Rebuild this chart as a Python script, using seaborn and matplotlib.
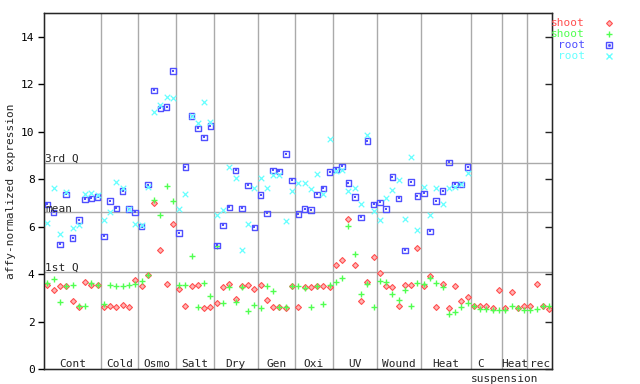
import numpy as np
import pandas as pd
import matplotlib
matplotlib.use("Agg")
import matplotlib.pyplot as plt
import seaborn as sns
from matplotlib.lines import Line2D

# ---- data ------------------------------------------------------------
groups      = ["Cont", "Cold", "Osmo", "Salt", "Dry", "Gen", "Oxi",
               "UV", "Wound", "Heat", "C", "Heat", "rec"]
group_sizes = [9, 6, 6, 6, 7, 6, 6, 7, 7, 8, 5, 4, 4]

shoot_1 = [3.53, 3.32, 3.49, 3.49, 2.85, 2.60, 3.65, 3.53, 3.53,
           2.60, 2.64, 2.60, 2.68, 2.60, 3.74,
           3.51, 3.95, 7.00, 5.00, 3.57, 6.11,
           3.36, 2.64, 3.49, 3.53, 2.56, 2.60,
           2.77, 3.44, 3.57, 2.94, 3.49, 3.53, 3.36,
           3.53, 2.89, 2.60, 2.60, 2.56, 3.50,
           2.60, 3.46, 3.46, 3.50, 3.50, 3.46,
           4.37, 4.58, 6.31, 4.37, 2.85, 3.65, 4.71,
           4.03, 3.49, 3.44, 2.64, 3.53, 3.53, 5.09,
           3.49, 3.93, 2.60, 3.57, 2.56, 3.49, 2.85, 3.02,
           2.67, 2.67, 2.67, 2.58, 3.33,
           2.56, 3.23, 2.56, 2.64,
           2.67, 3.57, 2.64, 2.52]
shoot_2 = [3.61, 3.78, 2.81, 3.49, 3.53, 2.64, 2.64, 3.61, 3.53,
           2.73, 3.53, 3.49, 3.49, 3.53, 3.57,
           3.72, 3.97, 7.13, 6.49, 7.71, 7.07,
           3.53, 3.53, 4.75, 2.60, 3.61, 3.06,
           5.17, 2.77, 3.44, 2.81, 3.44, 2.43, 2.68,
           2.56, 3.49, 3.27, 2.60, 2.60, 3.50,
           3.50, 3.40, 2.60, 3.50, 2.73, 3.54,
           3.65, 3.82, 6.01, 4.83, 3.15, 3.57, 2.60,
           3.70, 3.65, 3.15, 2.89, 3.32, 2.64, 3.61,
           3.57, 3.82, 3.61, 3.44, 2.31, 2.39, 2.60, 2.77,
           2.64, 2.52, 2.52, 2.47, 2.47,
           2.47, 2.64, 2.56, 2.47,
           2.47, 2.52, 2.64, 2.64]
root_1 = [6.94, 6.60, 5.25, 7.36, 5.51, 6.27, 7.15, 7.19, 7.24,
          5.59, 7.07, 6.77, 7.49, 6.73, 6.60,
          6.00, 7.77, 11.74, 10.98, 11.03, 12.55,
          5.72, 8.50, 10.65, 10.14, 9.76, 10.23,
          5.21, 6.05, 6.81, 8.37, 6.77, 7.74, 5.97,
          7.32, 6.56, 8.37, 8.33, 9.05, 7.95,
          6.52, 6.73, 6.69, 7.36, 7.61, 8.29,
          8.41, 8.54, 7.83, 7.24, 6.39, 9.60, 6.94,
          7.02, 6.73, 8.08, 7.19, 5.00, 7.87, 7.28,
          7.40, 5.80, 7.07, 7.49, 8.71, 7.78, 7.78, 8.50]
root_2 = [6.14, 7.61, 5.68, 7.45, 5.93, 6.06, 7.36, 7.40, 7.32,
          6.27, 6.60, 7.87, 7.61, 6.73, 6.10,
          6.05, 7.68, 10.82, 11.11, 11.45, 11.41,
          6.74, 7.37, 10.65, 10.35, 11.24, 10.40,
          6.48, 6.69, 8.50, 8.04, 5.00, 6.10, 7.61,
          8.04, 7.61, 8.16, 8.16, 6.22, 7.49,
          7.83, 7.83, 7.57, 8.20, 7.36, 9.68,
          8.33, 8.37, 7.49, 7.61, 6.94, 9.85, 6.65,
          6.27, 7.19, 7.53, 7.95, 6.31, 8.92, 5.84,
          7.66, 6.48, 7.61, 6.94, 7.61, 7.66, 7.78, 8.25]

q1, q_mean, q3 = 4.07, 6.60, 8.67

# ---- long table --------------------------------------------------------
n = sum(group_sizes)
sample = np.arange(1, n + 1)

def pad(vals):
    return list(vals) + [np.nan] * (n - len(vals))

df = pd.concat([
    pd.DataFrame({"sample": sample, "expr": pad(v), "series": k})
    for k, v in [("shoot_1", shoot_1), ("shoot_2", shoot_2),
                 ("root_1", root_1), ("root_2", root_2)]
]).dropna()

RED, GREEN, BLUE, CYAN = "#ff5050", "#50ff50", "#5050ff", "#66ffff"
MONO = "DejaVu Sans Mono"

sns.set_style("white")
plt.rcParams["font.family"] = [MONO, "DejaVu Sans"]
plt.rcParams["font.size"] = 8

fig = plt.figure(figsize=(6.4, 3.84), dpi=100)
ax = fig.add_axes([44.3 / 640, 15 / 384, 508 / 640, 356 / 384])

# group separators and quartile lines
bounds = np.cumsum(group_sizes)[:-1] + 0.5
for b in bounds:
    ax.axvline(b, color="#aaaaaa", lw=1.0, zorder=0)
for q in (q1, q_mean, q3):
    ax.axhline(q, color="#aaaaaa", lw=1.0, zorder=0)

# ---- points ------------------------------------------------------------
d = df[df.series == "shoot_1"]
sns.scatterplot(data=d, x="sample", y="expr", ax=ax, marker="D", s=9,
                color=RED, facecolor="#ffb4b4", edgecolor=RED,
                linewidth=0.8, legend=False, zorder=3)
d = df[df.series == "shoot_2"]
sns.scatterplot(data=d, x="sample", y="expr", ax=ax, marker="+", s=22,
                color=GREEN, linewidth=1.0, legend=False, zorder=3)
d = df[df.series == "root_1"]
sns.scatterplot(data=d, x="sample", y="expr", ax=ax, marker="s", s=16,
                color=BLUE, facecolor="none", edgecolor=BLUE,
                linewidth=1.0, legend=False, zorder=3)
sns.scatterplot(data=d, x="sample", y="expr", ax=ax, marker="s", s=1.2,
                color=BLUE, linewidth=0, legend=False, zorder=3)
d = df[df.series == "root_2"]
sns.scatterplot(data=d, x="sample", y="expr", ax=ax, marker="x", s=16,
                color=CYAN, linewidth=0.9, legend=False, zorder=3)

# ---- axes --------------------------------------------------------------
ax.set_xlim(0.5, n + 0.5)
ax.set_ylim(0, 15)
ax.set_xticks([])
ax.set_yticks(range(0, 15, 2))
ax.tick_params(axis="y", direction="out", length=4, width=1, pad=3,
               labelsize=8, colors="black")
ax.set_xlabel("")
ax.set_ylabel("affy-normalized expression", fontsize=8, labelpad=3.5)
for sp in ax.spines.values():
    sp.set_color("black")
    sp.set_linewidth(1.0)

ax_r = ax.twinx()
ax_r.set_ylim(0, 15)
ax_r.set_yticks(range(0, 15, 2))
ax_r.tick_params(axis="y", direction="in", length=5, width=1, labelright=False)
ax_r.grid(False)

# quartile labels
ax.text(0.6, q3 + 0.07, "3rd Q", ha="left", va="baseline", fontsize=8)
ax.text(0.6, q_mean, "mean", ha="left", va="baseline", fontsize=8)
ax.text(0.6, q1 + 0.07, "1st Q", ha="left", va="baseline", fontsize=8)

# group labels
starts = np.concatenate([[0], np.cumsum(group_sizes)[:-1]]) + 0.5
for name, st, size in zip(groups, starts, group_sizes):
    cx = st + size / 2
    if name == "C":
        cx = st + 1.6
    ax.text(cx, 0.1, name, ha="center", va="baseline", fontsize=8)
c_start = starts[groups.index("C")]
ax.text(c_start, -0.2, "suspension", ha="left", va="top", fontsize=8,
        clip_on=False)

# ---- legend (drawn by hand, outside the axes) --------------------------
legend_rows = [("shoot", RED, "D", "#ffb4b4"), ("shoot", GREEN, "+", None),
               ("root", BLUE, "s", "none"), ("root", CYAN, "x", None)]
for k, (lab, col, mk, fc) in enumerate(legend_rows):
    y = 1 - (23.3 + 11 * k) / 384
    fig.text(585 / 640, y, lab, color=col, ha="right", va="center", fontsize=8)
    kw = dict(marker=mk, color=col, linestyle="none", transform=fig.transFigure)
    if mk == "D":
        kw.update(markersize=3, markerfacecolor=fc, markeredgewidth=0.8)
    elif mk == "s":
        kw.update(markersize=4, markerfacecolor=fc, markeredgewidth=1.0)
    else:
        kw.update(markersize=4.7, markeredgewidth=1.0)
    fig.add_artist(Line2D([609.3 / 640], [y], **kw))
    if mk == "s":
        fig.add_artist(Line2D([609.3 / 640], [y], marker="s", markersize=1,
                              color=col, linestyle="none",
                              transform=fig.transFigure))

fig.savefig("out.png", dpi=100)
